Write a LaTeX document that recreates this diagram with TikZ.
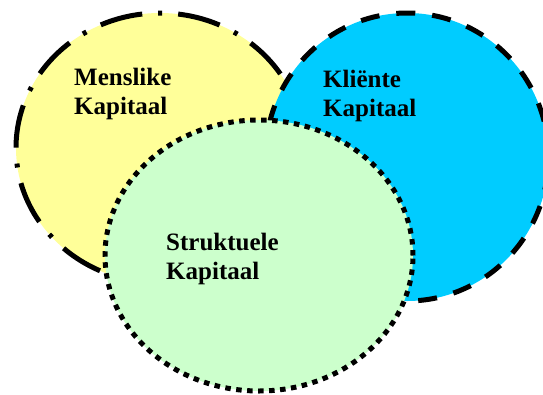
\documentclass[tikz,border=0pt]{standalone}
\usepackage{fontspec}
\setmainfont{Liberation Serif}
\usetikzlibrary{shapes.geometric}
\definecolor{yellowc}{HTML}{FFFF99}
\definecolor{bluec}{HTML}{00CCFF}
\definecolor{greenc}{HTML}{CCFFCC}
\begin{document}
\begin{tikzpicture}[x=1pt,y=-1pt,
  circ/.style={ellipse, inner sep=0pt, outer sep=0pt, line width=5pt, draw=black},
  lbl/.style={anchor=north west, inner sep=0pt, align=left, font=\fontsize{25}{28.5}\selectfont\bfseries}]
\useasboundingbox (0,0) rectangle (543,394);
\node[circ, fill=yellowc, dash pattern=on 43pt off 16pt on 4pt off 16pt,
      minimum width=288pt, minimum height=270pt] (men) at (160,148) {};
\node[circ, fill=bluec, dash pattern=on 19pt off 17pt,
      minimum width=283pt, minimum height=288pt] (kli) at (407,157) {};
\node[circ, fill=greenc, dash pattern=on 5.5pt off 5.5pt,
      minimum width=308pt, minimum height=271pt] (str) at (259,255.5) {};
\node[lbl] (menT) at (74,68) {Menslike\\Kapitaal};
\node[lbl] (kliT) at (323,70) {Kliënte\\Kapitaal};
\node[lbl] (strT) at (166,233) {Struktuele\\Kapitaal};
\end{tikzpicture}
\end{document}
